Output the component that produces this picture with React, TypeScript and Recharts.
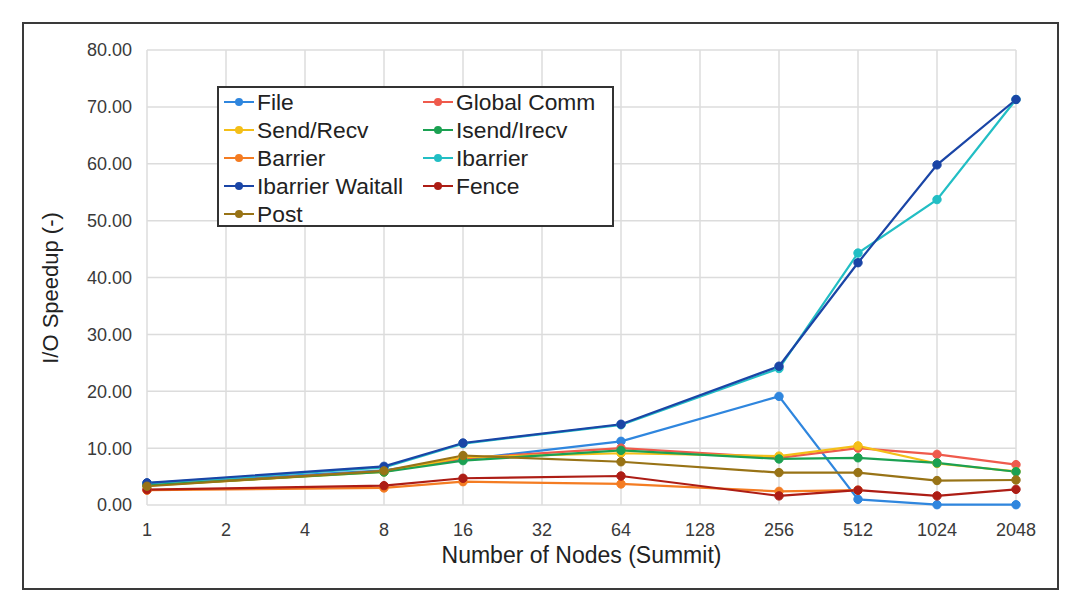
import React from 'react';
import { LineChart, Line, XAxis, YAxis, CartesianGrid, Label } from 'recharts';

const nodes = ['1', '2', '4', '8', '16', '32', '64', '128', '256', '512', '1024', '2048'];

const fileVals = [3.8, null, null, 6.1, 8.0, null, 11.2, null, 19.1, 1.0, 0.05, 0.05];
const globalCommVals = [3.5, null, null, 5.9, 8.2, null, 10.0, null, 8.3, 10.0, 8.9, 7.1];
const sendRecvVals = [3.4, null, null, 5.8, 8.4, null, 9.1, null, 8.6, 10.4, 7.3, 5.9];
const isendIrecvVals = [3.5, null, null, 5.8, 7.8, null, 9.6, null, 8.1, 8.3, 7.4, 5.85];
const barrierVals = [2.6, null, null, 3.0, 4.1, null, 3.7, null, 2.4, 2.6, null, null];
const ibarrierVals = [3.8, null, null, 6.6, 10.8, null, 14.1, null, 24.0, 44.3, 53.7, 71.3];
const ibarrierWaitallVals = [3.9, null, null, 6.8, 10.9, null, 14.2, null, 24.4, 42.6, 59.8, 71.3];
const fenceVals = [2.7, null, null, 3.4, 4.7, null, 5.1, null, 1.6, 2.6, 1.6, 2.75];
const postVals = [3.3, null, null, 6.0, 8.7, null, 7.6, null, 5.7, 5.7, 4.3, 4.4];

const yTicks = [0, 10, 20, 30, 40, 50, 60, 70, 80];

const series = [
  { key: 'file', name: 'File', color: '#2f86de', values: fileVals },
  { key: 'global', name: 'Global Comm', color: '#ef5a4c', values: globalCommVals },
  { key: 'send', name: 'Send/Recv', color: '#f4bf18', values: sendRecvVals },
  { key: 'isend', name: 'Isend/Irecv', color: '#1ba152', values: isendIrecvVals },
  { key: 'barrier', name: 'Barrier', color: '#f47c22', values: barrierVals },
  { key: 'ibarrier', name: 'Ibarrier', color: '#22bec4', values: ibarrierVals },
  { key: 'waitall', name: 'Ibarrier Waitall', color: '#1a45a6', values: ibarrierWaitallVals },
  { key: 'fence', name: 'Fence', color: '#ad1d15', values: fenceVals },
  { key: 'post', name: 'Post', color: '#987316', values: postVals },
];

const data = nodes.map((n, i) => {
  const row: Record<string, any> = { nodes: n };
  series.forEach((s) => {
    row[s.key] = s.values[i];
  });
  return row;
});

const FONT = '"Liberation Sans", Arial, sans-serif';

const LegendBox = () => (
  <div
    style={{
      position: 'absolute',
      left: 217,
      top: 86,
      width: 393,
      height: 137,
      border: '2px solid #333',
      background: '#fff',
      fontFamily: FONT,
      fontSize: 22.8,
      color: '#222',
      boxSizing: 'content-box',
    }}
  >
    {series.map((s, i) => {
      const col = i % 2;
      const row = Math.floor(i / 2);
      return (
        <div
          key={s.key}
          style={{
            position: 'absolute',
            left: col === 0 ? 4 : 203,
            top: 0 + row * 28,
            height: 28,
            display: 'flex',
            alignItems: 'center',
            whiteSpace: 'nowrap',
          }}
        >
          <svg width={32} height={12} style={{ marginRight: 2 }}>
            <line x1={1} y1={6} x2={31} y2={6} stroke={s.color} strokeWidth={2} />
            <circle cx={16} cy={6} r={4} fill={s.color} />
          </svg>
          <span>{s.name}</span>
        </div>
      );
    })}
  </div>
);

const YTitle = (props: any) => {
  const cx = 50;
  const cy = 288;
  return (
    <text
      x={cx}
      y={cy}
      transform={`rotate(-90, ${cx}, ${cy})`}
      textAnchor="middle"
      dominantBaseline="central"
      fontFamily={FONT}
      fontSize={22}
      fill="#222"
    >
      I/O Speedup (-)
    </text>
  );
};

export default function App() {
  return (
    <div style={{ position: 'relative', width: 1080, height: 605, background: '#fff' }}>
      <style>{`body{margin:0;background:#fff}`}</style>
      <LineChart
        width={1080}
        height={605}
        data={data}
        margin={{ top: 50, right: 64, left: 0, bottom: 0 }}
        style={{ position: 'absolute', left: 0, top: 0 }}
      >
        <CartesianGrid stroke="#dcdcdc" strokeWidth={1.5} vertical={true} horizontal={true} />
        <XAxis
          dataKey="nodes"
          type="category"
          height={100}
          axisLine={false}
          tickLine={false}
          tickSize={0}
          tickMargin={18}
          interval={0}
          tick={{ fontFamily: FONT, fontSize: 18, fill: '#3a3a3a' }}
        >
          <Label
            value="Number of Nodes (Summit)"
            position="insideBottom"
            offset={42}
            style={{ fontFamily: FONT, fontSize: 23, fill: '#222' }}
          />
        </XAxis>
        <YAxis
          width={147}
          domain={[0, 80]}
          ticks={yTicks}
          interval={0}
          axisLine={false}
          tickLine={false}
          tickSize={0}
          tickMargin={15}
          tickFormatter={(v: number) => v.toFixed(2)}
          tick={{ fontFamily: FONT, fontSize: 18, fill: '#3a3a3a' }}
          label={<YTitle />}
        />
        {series.map((s) => (
          <Line
            key={s.key}
            dataKey={s.key}
            name={s.name}
            stroke={s.color}
            strokeWidth={2.2}
            dot={{ r: 4.2, fill: s.color, stroke: s.color, strokeWidth: 1 }}
            activeDot={false}
            connectNulls={true}
            isAnimationActive={false}
          />
        ))}
      </LineChart>
      <LegendBox />
      <div
        style={{
          position: 'absolute',
          left: 22,
          top: 22,
          width: 1033,
          height: 564,
          border: '2px solid #3a3a3a',
          pointerEvents: 'none',
        }}
      />
    </div>
  );
}
